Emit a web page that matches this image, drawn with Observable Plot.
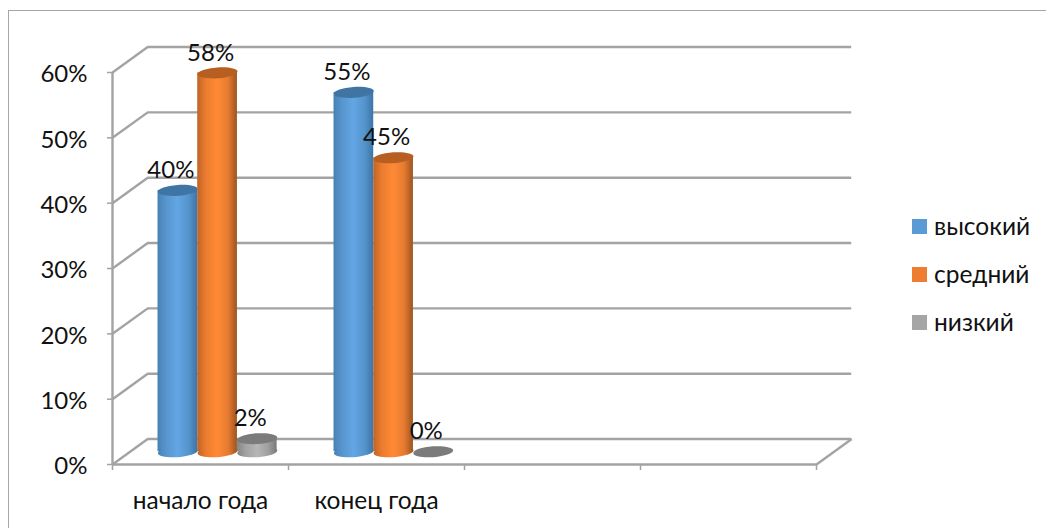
<!DOCTYPE html>
<html><head><meta charset="utf-8">
<script src="https://cdn.jsdelivr.net/npm/d3@7"></script>
<script src="https://cdn.jsdelivr.net/npm/@observablehq/plot@0.6"></script>
<style>
html,body{margin:0;padding:0;background:#fff;}
#wrap{position:relative;width:1046px;height:528px;overflow:hidden;font-family:Lato,"Open Sans",sans-serif;color:#111;}
#frame{position:absolute;left:8px;top:10px;width:1060px;height:560px;border:1.5px solid #a6a6a6;box-sizing:border-box;pointer-events:none;}
#legend{position:absolute;left:912px;top:202px;font-size:24.5px;line-height:48px;}
#legend div{display:flex;align-items:center;height:48px;}
#legend i{display:inline-block;width:15px;height:15px;margin-right:7px;}
svg{position:absolute;left:0;top:0;background:transparent;}
</style></head>
<body><div id="wrap"><div id="frame"></div><div id="legend"></div></div>
<script>
const categories = ["начало года", "конец года"];
const seriesNames = ["высокий", "средний", "низкий"];
const high = [0.40, 0.55];
const medium = [0.58, 0.45];
const low = [0.02, 0];
const yTicks = [0, 0.1, 0.2, 0.3, 0.4, 0.5, 0.6];
const xTicks = [0, 1, 2, 3, 4];
const seriesColors = ["#5b9bd5", "#ed7d31", "#a5a5a5"];
const stopOffsets = ["0%", "22%", "50%", "78%", "100%"];
const gradientStops = [
  ["#4a80b4", "#5796cf", "#62a6e4", "#5594cc", "#3d75a7"],
  ["#bd6526", "#ec7c30", "#ff8a35", "#e67a30", "#9c551f"],
  ["#858585", "#a3a3a3", "#b6b6b6", "#a0a0a0", "#7a7a7a"]
];
const capColors = ["#3f75a5", "#b75f21", "#7b7b7b"];

const depthX = 0.2, depthY = 0.039, barWidth = 0.2256, clusterShift = 0.597;
const gridColor = "#a3a3a3", font = 'Lato,"Open Sans",sans-serif';

const rows = seriesNames.map((name, s) => categories.map((c, i) => ({
  category: c, s, x: i + clusterShift + (s - 1) * barWidth,
  value: [high, medium, low][s][i]
})));

// a flat tilted ellipse, the end of a cylinder
const ellipse = {draw(ctx, size) {
  const a = Math.sqrt(size / Math.PI), b = a * 0.27, t = -0.07, k = 0.5523;
  const P = (x, y) => [x * Math.cos(t) - y * Math.sin(t), x * Math.sin(t) + y * Math.cos(t)];
  ctx.moveTo(...P(a, 0));
  ctx.bezierCurveTo(...P(a, k*b), ...P(k*a, b), ...P(0, b));
  ctx.bezierCurveTo(...P(-k*a, b), ...P(-a, k*b), ...P(-a, 0));
  ctx.bezierCurveTo(...P(-a, -k*b), ...P(-k*a, -b), ...P(0, -b));
  ctx.bezierCurveTo(...P(k*a, -b), ...P(a, -k*b), ...P(a, 0));
  ctx.closePath();
}};

const defs = () => {
  const d = d3.create("svg:defs");
  gradientStops.forEach((st, s) => {
    const g = d.append("linearGradient").attr("id", "cyl" + s);
    st.forEach((c, i) => g.append("stop").attr("offset", stopOffsets[i]).attr("stop-color", c));
  });
  return d.node();
};

const grid = {stroke: gridColor, strokeWidth: 2.4};
const marks = [
  defs,
  Plot.ruleY(yTicks, {y: d => d + depthY, x1: depthX, x2: 4 + depthX, ...grid}),
  Plot.link(yTicks, {x1: 0, y1: d => d, x2: depthX, y2: d => d + depthY, ...grid}),
  Plot.link([0], {x1: 4, y1: 0, x2: 4 + depthX, y2: depthY, ...grid}),
  Plot.ruleX([0], {y1: 0, y2: 0.6, ...grid}),
  Plot.ruleY([0], {x1: 0, x2: 4, ...grid}),
  Plot.axisX({ticks: xTicks, tickSize: 6, tickFormat: () => "", stroke: gridColor, strokeWidth: 1.5, label: null}),
  Plot.axisY({ticks: yTicks, tickSize: 5, tickFormat: () => "", label: null, stroke: gridColor, strokeWidth: 1.5}),
  Plot.text(yTicks, {x: 0, y: d => d, text: d3.format(".0%"), textAnchor: "end", dx: -25, dy: 2, fontSize: 24, fontFamily: font, fill: "#111"}),
  Plot.text(categories, {x: (d, i) => i + 0.5, y: 0, text: d => d, dy: 37, fontSize: 24.5, fontFamily: font, fill: "#111"})
];
rows.forEach((r, s) => {
  const fill = `url(#cyl${s})`;
  const base = depthY / 2;
  marks.push(Plot.dot(r.filter(d => d.value > 0), {x: "x", y: () => base, r: 20, symbol: ellipse, fill, stroke: "none"}));
  marks.push(Plot.rect(r, {x1: d => d.x - barWidth / 2, x2: d => d.x + barWidth / 2, y1: () => base, y2: d => d.value + base, fill}));
  marks.push(Plot.dot(r, {x: "x", y: d => d.value + base, r: 20, symbol: ellipse, fill: capColors[s], stroke: "none"}));
});
rows.forEach(r => marks.push(Plot.text(r, {x: "x", y: d => d.value + depthY / 2, text: d => d3.format(".0%")(d.value),
  dx: -7, dy: -20, fontSize: 24, fontFamily: font, fill: "#111"})));

const chart = Plot.plot({
  width: 1046, height: 528,
  marginLeft: 112, marginRight: 230, marginTop: 72, marginBottom: 64,
  x: {domain: [0, 4], axis: null},
  y: {domain: [0, 0.6], axis: null},
  style: {background: "transparent", overflow: "visible"},
  marks
});
document.getElementById("wrap").appendChild(chart);

const leg = d3.select("#legend");
seriesNames.forEach((n, i) => {
  const row = leg.append("div");
  row.append("i").style("background", seriesColors[i]);
  row.append("span").text(n);
});
</script></body></html>
